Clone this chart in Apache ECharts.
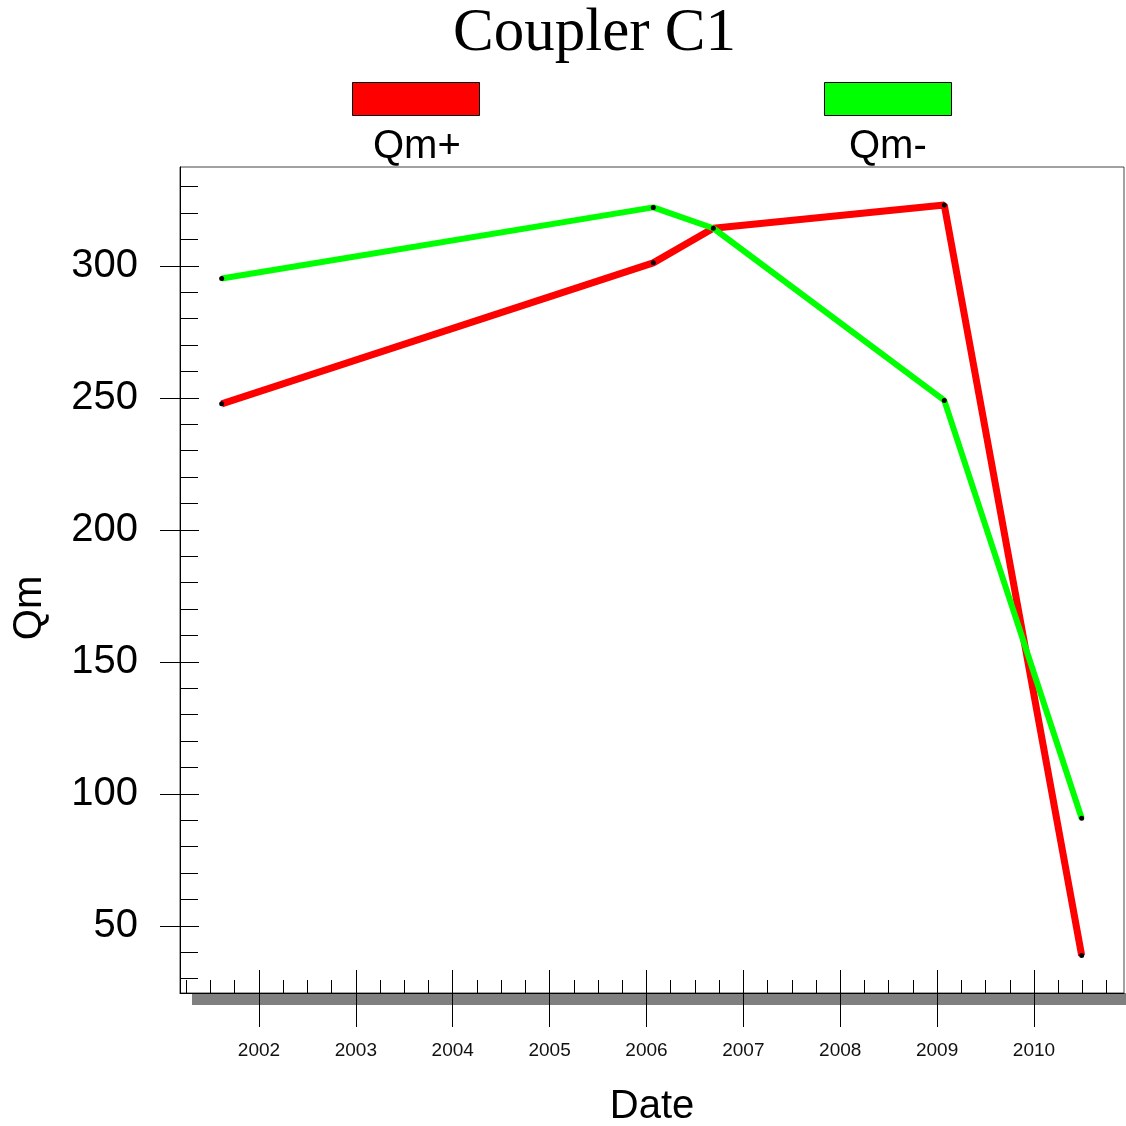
<!DOCTYPE html>
<html>
<head>
<meta charset="utf-8">
<title>Coupler C1</title>
<script src="https://cdn.jsdelivr.net/npm/echarts@6/dist/echarts.min.js"></script>
</head>
<body style="margin: 0; background: #fff">
<div id="chart" style="width: 1126px; height: 1126px"></div>
<script>
// dates as decimal years
var dates = [2001.615, 2006.07, 2006.69, 2009.074, 2010.492];
var qmPlus = [247.7, 301.1, 314.2, 323.0, 38.8];
var qmMinus = [295.2, 322.1, 314.2, 249.0, 90.8];
var yearTicks = [2002, 2003, 2004, 2005, 2006, 2007, 2008, 2009, 2010];
var qmTicks = [50, 100, 150, 200, 250, 300];

var xMin = 2001.185, xMax = 2010.929;
var yMin = 24.6, yMax = 337.4;

function pairs(xs, ys) {
    return xs.map(function (x, i) { return [x, ys[i]]; });
}

var sans = 'Liberation Sans, Arial, sans-serif';
var black = '#000';

var chart = echarts.init(document.getElementById('chart'));

var option = {
    animation: false,
    backgroundColor: '#fff',
    title: {
        text: 'Coupler C1',
        left: 453,
        top: 3,
        padding: 0,
        textStyle: {fontFamily: 'Liberation Serif, Times New Roman, serif', fontSize: 61, fontWeight: 'normal', color: black}
    },
    legend: [
        // colour boxes
        {
            data: [{name: 'Qm+', itemStyle: {color: '#ff0000', borderColor: black, borderWidth: 1}}],
            left: 352, top: 82, padding: 0, icon: 'rect',
            itemWidth: 127, itemHeight: 33,
            formatter: function () { return ''; }
        },
        {
            data: [{name: 'Qm-', itemStyle: {color: '#00ff00', borderColor: black, borderWidth: 1}}],
            left: 824, top: 82, padding: 0, icon: 'rect',
            itemWidth: 127, itemHeight: 33,
            formatter: function () { return ''; }
        },
        // names under the boxes
        {
            data: [{name: 'Qm+', itemStyle: {opacity: 0, borderWidth: 0}}],
            left: 367, top: 127, padding: 0, itemWidth: 0, itemHeight: 0,
            textStyle: {fontFamily: sans, fontSize: 40, color: black}
        },
        {
            data: [{name: 'Qm-', itemStyle: {opacity: 0, borderWidth: 0}}],
            left: 843, top: 127, padding: 0, itemWidth: 0, itemHeight: 0,
            textStyle: {fontFamily: sans, fontSize: 40, color: black}
        }
    ],
    grid: {
        left: 180, top: 167, right: 2, bottom: 133,
        outerBoundsMode: 'none',
        containLabel: false,
        show: true, borderColor: '#444', borderWidth: 1, backgroundColor: 'transparent'
    },
    graphic: [
        // grey shadow under the plot frame
        {type: 'rect', left: 192, top: 993, z: -10, shape: {width: 934, height: 12}, style: {fill: '#808080'}}
    ],
    xAxis: [
        {
            type: 'value', min: xMin, max: xMax, minInterval: 1, maxInterval: 1,
            position: 'bottom',
            axisLine: {show: true, onZero: false, lineStyle: {color: black, width: 1}},
            axisTick: {show: true, inside: true, length: 23, customValues: yearTicks, lineStyle: {color: black}},
            minorTick: {show: true, splitNumber: 4, length: 13, lineStyle: {color: black}},
            axisLabel: {
                customValues: yearTicks, margin: 48, fontSize: 19, fontFamily: sans, color: '#111',
                formatter: function (v) { return String(Math.round(v)); }
            },
            splitLine: {show: false},
            minorSplitLine: {show: false},
            name: 'Date', nameLocation: 'middle', nameGap: 94,
            nameTextStyle: {fontFamily: sans, fontSize: 40, color: black}
        },
        {
            // outer half of the year ticks
            type: 'value', min: xMin, max: xMax, minInterval: 1, maxInterval: 1,
            position: 'bottom',
            z: 5,
            axisLine: {show: false, onZero: false},
            axisTick: {show: true, inside: false, length: 34, customValues: yearTicks, lineStyle: {color: black}},
            axisLabel: {show: false},
            splitLine: {show: false}
        }
    ],
    yAxis: [
        {
            type: 'value', min: yMin, max: yMax, minInterval: 50, maxInterval: 50,
            position: 'left',
            axisLine: {show: true, onZero: false, lineStyle: {color: black, width: 1}},
            axisTick: {show: true, inside: true, length: 19, customValues: qmTicks, lineStyle: {color: black}},
            minorTick: {show: true, splitNumber: 5, length: 18, lineStyle: {color: black}},
            axisLabel: {customValues: qmTicks, margin: 42, fontSize: 40, fontFamily: sans, color: black},
            splitLine: {show: false},
            minorSplitLine: {show: false},
            name: 'Qm', nameLocation: 'middle', nameGap: 130,
            nameTextStyle: {fontFamily: sans, fontSize: 40, color: black, padding: [0, 56, 0, 0]}
        },
        {
            type: 'value', min: yMin, max: yMax, minInterval: 50, maxInterval: 50,
            position: 'left',
            axisLine: {show: false, onZero: false},
            axisTick: {show: true, inside: false, length: 20, customValues: qmTicks, lineStyle: {color: black}},
            axisLabel: {show: false},
            splitLine: {show: false}
        }
    ],
    series: [
        {
            name: 'Qm+', type: 'line', xAxisIndex: 0, yAxisIndex: 0,
            data: pairs(dates, qmPlus),
            color: '#ff0000',
            lineStyle: {color: '#ff0000', width: 7},
            symbol: 'circle', symbolSize: 5,
            itemStyle: {color: black},
            z: 2
        },
        {
            name: 'Qm-', type: 'line', xAxisIndex: 0, yAxisIndex: 0,
            data: pairs(dates, qmMinus),
            color: '#00ff00',
            lineStyle: {color: '#00ff00', width: 6},
            symbol: 'circle', symbolSize: 5,
            itemStyle: {color: black},
            z: 3
        }
    ]
};

chart.setOption(option);
</script>
</body>
</html>
